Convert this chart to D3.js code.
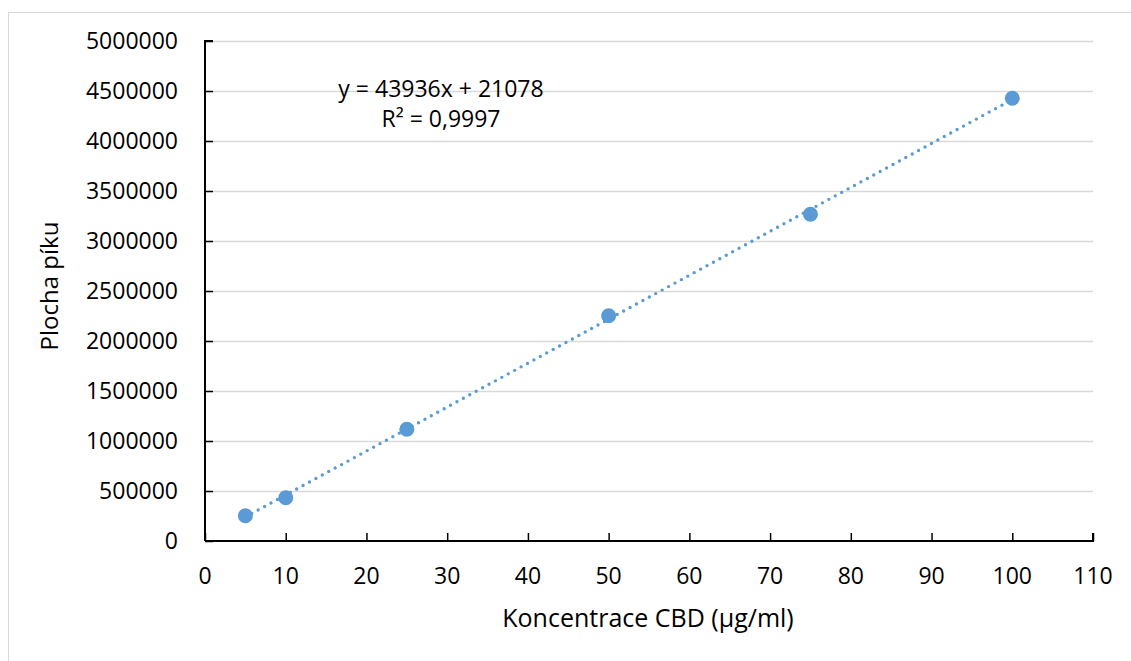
<!DOCTYPE html>
<html>
<head>
<meta charset="utf-8">
<script src="https://cdn.jsdelivr.net/npm/d3@7"></script>
<style>
  html, body { margin: 0; padding: 0; background: #fff; }
  svg { display: block; }
  text { font-family: "Open Sans", "Noto Sans", sans-serif; fill: #000; }
</style>
</head>
<body>
<svg id="chart" width="1131" height="661"></svg>
<script>
// Calibration data: CBD concentration vs. peak area
const concentrations = [5, 10, 25, 50, 75, 100];
const peakAreas = [253000, 433000, 1117000, 2253000, 3267000, 4427000];

// Linear fit reported for the calibration
const fitSlope = 43936;
const fitIntercept = 21078;
const fitR2Label = "R² = 0,9997";
const fitEqLabel = "y = 43936x + 21078";

const xTicks = [0, 10, 20, 30, 40, 50, 60, 70, 80, 90, 100, 110];
const yTicks = [0, 500000, 1000000, 1500000, 2000000, 2500000, 3000000, 3500000, 4000000, 4500000, 5000000];

const xTitle = "Koncentrace CBD (µg/ml)";
const yTitle = "Plocha píku";

const color = "#5B9BD5";

const svg = d3.select("#chart");

// chart frame
svg.append("rect")
  .attr("x", 8.5).attr("y", 12.5)
  .attr("width", 1200).attr("height", 700)
  .attr("fill", "#fff")
  .attr("stroke", "#d9d9d9")
  .attr("stroke-width", 1);

const x = d3.scaleLinear().domain([0, 110]).range([205, 1093]);
const y = d3.scaleLinear().domain([0, 5000000]).range([541, 41]);

// horizontal gridlines
svg.append("g")
  .selectAll("line")
  .data(yTicks.filter(d => d > 0))
  .join("line")
  .attr("x1", x(0)).attr("x2", x(110))
  .attr("y1", d => Math.round(y(d)) + 0.5)
  .attr("y2", d => Math.round(y(d)) + 0.5)
  .attr("stroke", "#d9d9d9")
  .attr("stroke-width", 1.5);

// y axis
const yAxis = svg.append("g")
  .attr("transform", `translate(${x(0)},0)`)
  .call(d3.axisRight(y).tickValues(yTicks).tickSize(8).tickFormat(""));
yAxis.select(".domain").attr("stroke", "#000").attr("stroke-width", 2)
  .attr("d", `M8,${y(5000000)}H0V${y(0)}`);
yAxis.selectAll(".tick line").attr("stroke", "#000").attr("stroke-width", 1.5);

svg.append("g")
  .selectAll("text")
  .data(yTicks)
  .join("text")
  .attr("x", 178)
  .attr("y", d => y(d))
  .attr("dy", "0.36em")
  .attr("text-anchor", "end")
  .style("font-size", "23px")
  .text(d => d3.format("d")(d));

// x axis
const xAxis = svg.append("g")
  .attr("transform", `translate(0,${y(0)})`)
  .call(d3.axisTop(x).tickValues(xTicks).tickSize(8).tickFormat(""));
xAxis.select(".domain").attr("stroke", "#000").attr("stroke-width", 2)
  .attr("d", `M${x(0)},0H${x(110)}V-8`);
xAxis.selectAll(".tick line").attr("stroke", "#000").attr("stroke-width", 1.5);

svg.append("g")
  .selectAll("text")
  .data(xTicks)
  .join("text")
  .attr("x", d => x(d))
  .attr("y", 584)
  .attr("text-anchor", "middle")
  .style("font-size", "23px")
  .text(d => d);

// trendline (dotted)
const line = d3.line().x(d => x(d)).y(d => y(fitSlope * d + fitIntercept));
svg.append("path")
  .datum([d3.min(concentrations), d3.max(concentrations)])
  .attr("d", line)
  .attr("fill", "none")
  .attr("stroke", color)
  .attr("stroke-width", 3.4)
  .attr("stroke-linecap", "round")
  .attr("stroke-dasharray", "0 7.3");

// markers
svg.append("g")
  .selectAll("circle")
  .data(concentrations.map((c, i) => [c, peakAreas[i]]))
  .join("circle")
  .attr("cx", d => x(d[0]))
  .attr("cy", d => y(d[1]))
  .attr("r", 7.5)
  .attr("fill", color);

// fit equation
svg.append("text")
  .attr("x", 441).attr("y", 97)
  .attr("text-anchor", "middle")
  .style("font-size", "23px")
  .text(fitEqLabel);
svg.append("text")
  .attr("x", 441).attr("y", 127)
  .attr("text-anchor", "middle")
  .style("font-size", "23px")
  .text(fitR2Label);

// axis titles
svg.append("text")
  .attr("x", 648).attr("y", 627)
  .attr("text-anchor", "middle")
  .style("font-size", "25px")
  .text(xTitle);

svg.append("text")
  .attr("transform", "translate(58,286) rotate(-90)")
  .attr("text-anchor", "middle")
  .style("font-size", "24px")
  .text(yTitle);
</script>
</body>
</html>
